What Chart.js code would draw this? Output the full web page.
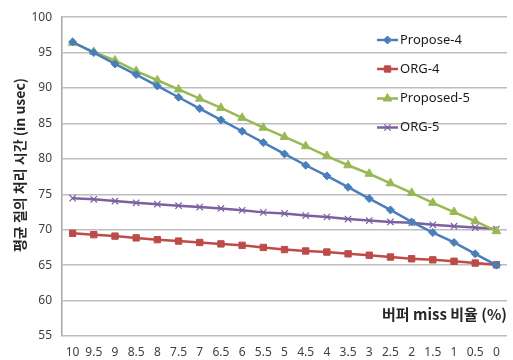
<!DOCTYPE html>
<html><head><meta charset="utf-8">
<script src="https://cdn.jsdelivr.net/npm/chart.js@4"></script>
<style>html,body{margin:0;padding:0;background:#fff}#wrap{width:513px;height:360px}</style>
</head><body><div id="wrap"><canvas id="c" width="513" height="360"></canvas></div>
<script>
const categories = ['10','9.5','9','8.5','8','7.5','7','6.5','6','5.5','5','4.5','4','3.5','3','2.5','2','1.5','1','0.5','0'];
const propose4 = [96.5,95.0,93.4,91.9,90.3,88.7,87.1,85.5,83.9,82.3,80.7,79.1,77.6,76.0,74.4,72.8,71.1,69.6,68.2,66.6,65.0];
const org4 = [69.5,69.3,69.1,68.85,68.6,68.4,68.2,68.0,67.8,67.5,67.2,67.0,66.85,66.6,66.4,66.15,65.9,65.75,65.55,65.3,65.05];
const proposed5 = [96.4,95.1,93.9,92.4,91.1,89.8,88.5,87.2,85.8,84.4,83.1,81.8,80.4,79.1,77.9,76.55,75.2,73.8,72.5,71.2,69.8];
const org5 = [74.45,74.3,74.05,73.8,73.6,73.4,73.2,73.0,72.75,72.45,72.3,72.0,71.8,71.5,71.3,71.1,71.0,70.7,70.5,70.3,70.1];
const seriesNames = ['Propose-4','ORG-4','Proposed-5','ORG-5'];
const yTicks = [55,60,65,70,75,80,85,90,95,100];
const yTitle = '평균 질의 처리 시간 (in usec)';
const xTitle = '버퍼 miss 비율 (%)';

const colors = ['#4A7EBB','#BE4B48','#98B954','#7D60A0'];
const styles = ['rectRot','rect','triangle','crossRot'];
const radii = [4,4.5,5,4.5];
const seriesData = [propose4, org4, proposed5, org5];

const overlay = {
  id:'overlay',
  afterDraw(chart){
    const ctx = chart.ctx;
    ctx.save();
    ctx.fillStyle = '#262626';
    ctx.font = 'bold 14px "Noto Sans CJK KR", "Noto Sans", sans-serif';
    ctx.textAlign = 'center'; ctx.textBaseline = 'middle';
    ctx.translate(20, 165); ctx.rotate(-Math.PI/2);
    ctx.fillText(yTitle, 0, 0);
    ctx.restore();
    ctx.save();
    ctx.fillStyle = '#262626';
    ctx.font = 'bold 15px "Noto Sans CJK KR", "Noto Sans", sans-serif';
    ctx.textAlign = 'right'; ctx.textBaseline = 'middle';
    ctx.fillText(xTitle, 507, 314);
    const ys = [40,69,98.5,127.5];
    chart.data.datasets.forEach((ds,i)=>{
      const y = ys[i];
      ctx.strokeStyle = ds.borderColor; ctx.lineWidth = 2.5;
      ctx.beginPath(); ctx.moveTo(377,y); ctx.lineTo(398,y); ctx.stroke();
      ctx.save();
      ctx.fillStyle = ds.pointBackgroundColor; ctx.strokeStyle = ds.pointBorderColor;
      ctx.lineWidth = ds.pointBorderWidth;
      Chart.helpers.drawPoint(ctx,{pointStyle:ds.pointStyle,radius:ds.pointRadius,borderWidth:ds.pointBorderWidth},387.5,y);
      ctx.restore();
      ctx.fillStyle = '#1a1a1a';
      ctx.font = '13px "Noto Sans", sans-serif';
      ctx.textAlign = 'left'; ctx.textBaseline = 'middle';
      ctx.fillText(ds.label, 400, y);
    });
    ctx.restore();
  }
};

new Chart(document.getElementById('c'),{
  type:'line',
  data:{
    labels:categories,
    datasets: seriesData.map((d,i)=>({
      label: seriesNames[i],
      data: d,
      borderColor: colors[i],
      backgroundColor: colors[i],
      pointBackgroundColor: colors[i],
      pointBorderColor: colors[i],
      pointBorderWidth: i===3?1.2:1,
      pointStyle: styles[i],
      pointRadius: radii[i],
      borderWidth: 2.5,
      tension: 0,
      fill:false
    }))
  },
  options:{
    responsive:false,
    animation:false,
    devicePixelRatio:1,
    layout:{padding:{top:13,right:0,bottom:0,left:0}},
    plugins:{legend:{display:false},tooltip:{enabled:false}},
    scales:{
      x:{
        type:'category', offset:true,
        grid:{display:false, drawTicks:false},
        border:{display:false},
        ticks:{color:'#404040',font:{family:'"Noto Sans", sans-serif',size:12},padding:9,maxRotation:0,autoSkip:false},
        afterFit(s){ s.height = 24; }
      },
      y:{
        min:55,max:100,
        afterBuildTicks(s){ s.ticks = yTicks.map(v=>({value:v})); },
        grid:{color:'#BDBDBD',lineWidth:1.5,drawTicks:false},
        border:{display:true,color:'#A6A6A6',width:1.5},
        ticks:{color:'#404040',font:{family:'"Noto Sans", sans-serif',size:12},padding:10},
        afterFit(s){ s.width = 62; }
      }
    }
  },
  plugins:[overlay]
});
</script></body></html>
